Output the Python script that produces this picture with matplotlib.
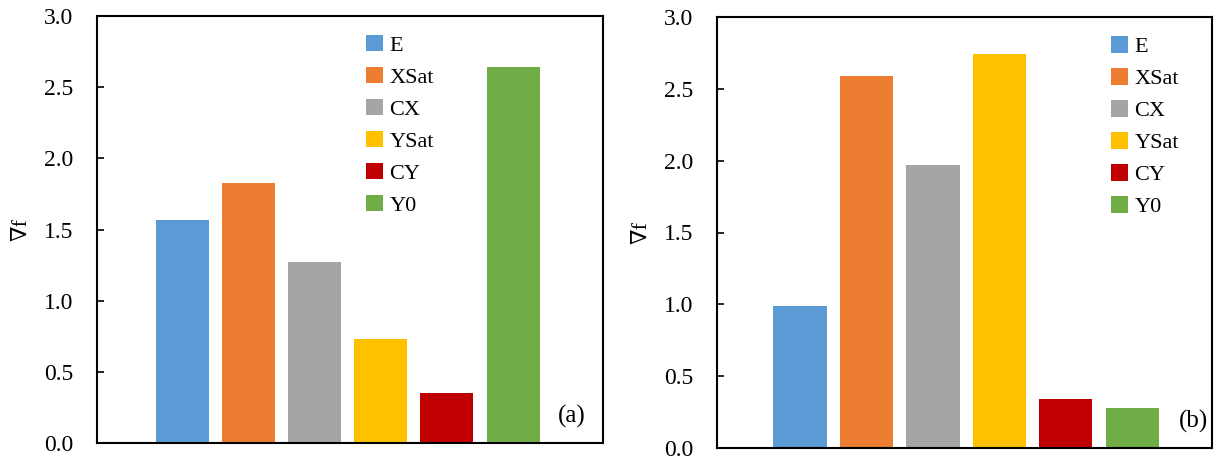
import matplotlib
matplotlib.use("Agg")
import matplotlib.pyplot as plt
import numpy as np

plt.rcParams["font.family"] = ["Liberation Serif", "DejaVu Serif"]

# --- data ---
series = ["E", "XSat", "CX", "YSat", "CY", "Y0"]
colors = ["#5B9BD5", "#ED7D31", "#A5A5A5", "#FFC000", "#C00000", "#70AD47"]
values_a = [1.57, 1.83, 1.27, 0.73, 0.35, 2.64]
values_b = [0.99, 2.59, 1.97, 2.74, 0.34, 0.28]
yticks = [0.0, 0.5, 1.0, 1.5, 2.0, 2.5, 3.0]

fig = plt.figure(figsize=(12.18, 4.59), dpi=100)
ax_a = fig.add_axes([97 / 1218, 1 - 443 / 459, (603 - 97) / 1218, (443 - 16) / 459])
ax_b = fig.add_axes([717 / 1218, 1 - 448 / 459, (1212 - 717) / 1218, (448 - 17) / 459])


def draw_panel(ax, values, tag, tag_x, xlim, leg_anchor):
    x = np.arange(len(series))
    for i, (name, v, c) in enumerate(zip(series, values, colors)):
        ax.bar(x[i], v, width=0.8, color=c, label=name)
    ax.set_xlim(*xlim)
    ax.set_ylim(0, 3.0)
    ax.set_yticks(yticks)
    ax.set_yticklabels([f"{t:.1f}" for t in yticks])
    ax.set_xticks([])
    ax.tick_params(axis="y", direction="in", length=5, width=1.2, labelsize=17, pad=17)
    for s in ax.spines.values():
        s.set_linewidth(1.5)
    ax.set_ylabel("∇f", fontsize=16, labelpad=9)
    ax.text(tag_x, 0.035, tag, transform=ax.transAxes, fontsize=18,
            ha="right", va="bottom")
    ax.legend(loc="upper left", bbox_to_anchor=leg_anchor, frameon=False,
              fontsize=16, handlelength=0.75, handleheight=0.75,
              handletextpad=0.3, labelspacing=0.5, borderaxespad=0,
              borderpad=0)


draw_panel(ax_a, values_a, "(a)", 0.966, (-1.29, 6.36), (0.532, 0.955))
draw_panel(ax_b, values_b, "(b)", 0.992, (-1.25, 6.2), (0.796, 0.955))

fig.savefig("out.png", dpi=100)
